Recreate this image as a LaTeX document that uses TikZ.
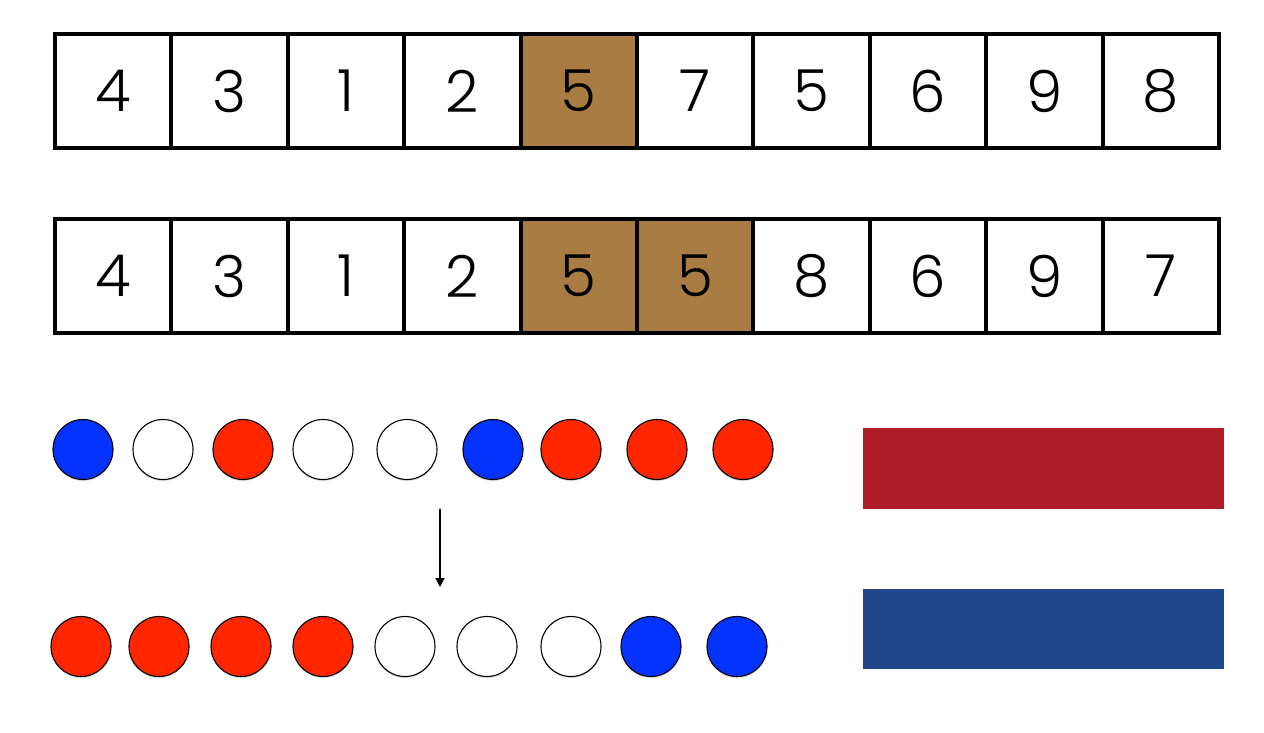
\documentclass[tikz,border=0pt]{standalone}
\usepackage{xcolor}
\usepackage{fontspec}
\setmainfont{Poppins}[UprightFont=* Light]
\usepackage{tikz}
\usetikzlibrary{shadows,arrows.meta}

\definecolor{pivotbrown}{HTML}{A97C43}
\definecolor{ballred}{HTML}{FF2600}
\definecolor{ballblue}{HTML}{0433FF}
\definecolor{flagred}{HTML}{AE1C28}
\definecolor{flagblue}{HTML}{21468B}

\tikzset{
	cell/.style={draw,line width=4pt,minimum width=116.4pt,minimum height=114.5pt,inner sep=0pt,outer sep=0pt,font=\fontsize{58}{58}\selectfont},
	pivot/.style={cell,fill=pivotbrown},
	ball/.style={circle,draw,line width=1.1pt,minimum size=60pt,inner sep=0pt,outer sep=0pt,fill=white,
		drop shadow={shadow xshift=0pt,shadow yshift=-1.5pt,opacity=0.3}},
	redball/.style={ball,fill=ballred},
	blueball/.style={ball,fill=ballblue},
}

\begin{document}
\begin{tikzpicture}[x=1pt,y=-1pt]
		\useasboundingbox (0,0) rectangle (1264,732);
		% Draw first row
		\foreach \i/\v/\s in {0/4/cell,1/3/cell,2/1/cell,3/2/cell,4/5/pivot,5/7/cell,6/5/cell,7/6/cell,8/9/cell,9/8/cell}
		\node[\s] (a\i) at (113.2+116.4*\i,91) {\v};
		% Draw second row
		\foreach \i/\v/\s in {0/4/cell,1/3/cell,2/1/cell,3/2/cell,4/5/pivot,5/5/pivot,6/8/cell,7/6/cell,8/9/cell,9/7/cell}
		\node[\s] (b\i) at (113.2+116.4*\i,276) {\v};
		% Balls before
		\foreach \x/\s [count=\i] in {83/blueball,163/ball,243/redball,323/ball,407/ball,493/blueball,571/redball,657/redball,743/redball}
		\node[\s] (c\i) at (\x,449.5) {};
		% Balls after
		\foreach \x/\s [count=\i] in {81/redball,159/redball,241/redball,323/redball,405/ball,487/ball,571/ball,651/blueball,737/blueball}
		\node[\s] (d\i) at (\x,646.5) {};
		\coordinate (arrowtop) at (440,509);
		\coordinate (arrowend) at (440,587);
		\draw[line width=1.3pt,-{Triangle[width=9pt,length=9pt]}] (arrowtop) -- (arrowend);
		% Flag
		\fill[flagred] (863,428) rectangle (1224,508.5);
		\fill[flagblue] (863,589) rectangle (1224,669);
	\end{tikzpicture}
\end{document}
